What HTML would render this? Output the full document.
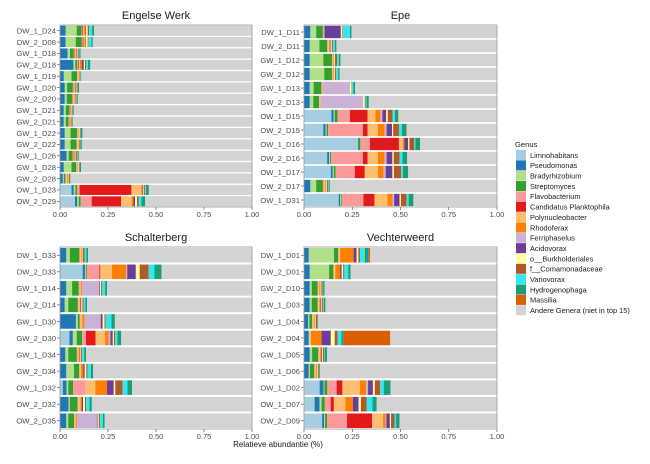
<!DOCTYPE html>
<html><head><meta charset="utf-8"><style>
body{margin:0;background:#fff;font-family:"Liberation Sans",sans-serif}
svg text{font-family:"Liberation Sans",sans-serif}
</style></head><body>
<svg id="chart" width="650" height="459" xmlns="http://www.w3.org/2000/svg"></svg>
<script>
const genera=["Limnohabitans","Pseudomonas","Bradyrhizobium","Streptomyces","Flavobacterium","Candidatus Planktophila","Polynucleobacter","Rhodoferax","Ferriphaselus","Acidovorax","o__Burkholderiales","f__Comamonadaceae","Variovorax","Hydrogenophaga","Massilia","Andere Genera (niet in top 15)"];
const colors=["#a6cee3","#1f78b4","#b2df8a","#33a02c","#fb9a99","#e31a1c","#fdbf6f","#ff7f00","#cab2d6","#6a3d9a","#ffff99","#b15928","#33e6f0","#1b9e77","#d95f02","#d3d3d3"];
const xTicks=[0,0.25,0.5,0.75,1];
const xTickLabels=["0.00","0.25","0.50","0.75","1.00"];
const ewSamples=["DW_1_D24","DW_2_D08","GW_1_D18","GW_2_D18","GW_1_D19","GW_1_D20","GW_2_D20","GW_1_D21","GW_2_D21","GW_1_D22","GW_2_D22","GW_1_D26","GW_1_D28","GW_2_D28","OW_1_D23","OW_2_D29"];
const ewValues=[
[0,.03,.057,.026,.004,.004,.006,.006,0,.003,.008,.008,.015,.01,0],
[0,.03,.052,.032,.004,.004,.006,.006,0,.002,.008,.004,.015,.008,0],
[0,.04,.012,.02,.004,.003,.004,.004,0,.002,.003,.006,.003,.006,0],
[0,.07,.01,.01,.004,.004,.006,.01,0,.01,.006,.006,.01,.012,0],
[0,.02,.04,.03,.002,0,.003,.003,0,0,.003,.004,.002,.004,0],
[0,.025,.012,.03,.003,.002,.005,.004,0,.002,.003,.005,.002,.006,0],
[0,.025,.01,.028,.003,.002,.005,.004,0,0,.003,.005,.002,.006,0],
[0,.02,.01,.02,.003,.002,.004,.003,0,0,.002,.004,.002,.004,0],
[0,.02,.01,.015,.003,.002,.004,.003,0,0,.002,.004,0,.004,0],
[0,.025,.03,.035,.003,0,.004,.003,0,0,.003,.004,.002,.008,0],
[0,.025,.03,.032,.003,0,.004,.003,0,0,.003,.004,.002,.008,0],
[0,.035,.01,.02,.003,.002,.005,.004,0,.002,.003,.006,.002,.006,0],
[0,.02,.04,.025,.003,0,.004,.003,0,0,.003,.004,.002,.006,0],
[0,.015,.005,.008,.005,0,.006,.005,0,0,.002,.004,0,.004,0],
[.06,.012,.008,.01,.012,.27,.052,.006,0,.004,.004,.006,.004,.015,0],
[.078,.012,.008,.01,.057,.153,.055,.01,0,.008,.01,.008,.015,.02,0]];
const epeSamples=["DW_1_D11","DW_2_D11","GW_1_D12","GW_2_D12","GW_1_D13","GW_2_D13","OW_1_D15","OW_2_D15","OW_1_D16","OW_2_D16","OW_1_D17","OW_2_D17","OW_1_D31"];
const epeValues=[
[0,.033,.03,.035,.005,0,.003,0,0,.085,.008,.004,.035,.008,0],
[0,.03,.05,.04,.005,0,.005,.004,0,.004,.006,.006,.01,.008,0],
[0,.03,.07,.045,.004,0,.004,.004,0,0,.004,.01,.01,.008,0],
[0,.03,.075,.04,.004,0,.004,.004,0,0,.004,.006,.01,.008,0],
[0,.03,.02,.04,.003,0,.004,.002,.14,0,.006,.002,.008,.01,0],
[0,.03,.018,.03,.003,0,.004,.002,.22,0,.008,.004,.005,.012,0],
[.142,.012,.005,.015,.064,.092,.04,.026,.01,.02,.008,.025,.012,.018,0],
[.1,.012,.005,.008,.18,.025,.052,.036,.01,.028,.006,.03,.015,.025,0],
[.28,0,0,.012,.05,.15,.02,.008,0,.02,.006,.025,.006,.025,0],
[.12,.01,.005,.005,.165,.025,.052,.036,.01,.03,.007,.03,.015,.025,0],
[.139,.01,.005,.01,.099,.052,.068,.03,.01,.035,.008,.038,.008,.028,0],
[0,.033,.03,.035,.006,0,.006,.004,0,0,.004,.006,.004,.006,0],
[.18,.008,.005,.005,.11,.057,.068,.026,.008,.028,.007,.03,.01,.025,0]];
const schSamples=["DW_1_D33","DW_2_D33","GW_1_D14","GW_2_D14","GW_1_D30","GW_2_D30","GW_1_D34","GW_2_D34","OW_1_D32","OW_2_D32","OW_2_D35"];
const schValues=[
[0,.033,.018,.05,.004,0,.005,.004,0,0,.004,.01,.01,.008,0],
[.118,.012,.005,.005,.065,.005,.06,.075,.005,.045,.02,.047,.03,.037,0],
[0,.033,.03,.035,.004,0,.006,.006,.09,.004,.006,.006,.015,.01,0],
[0,.025,.018,.05,.004,0,.006,.004,0,.004,.006,.006,.01,.008,0],
[0,.083,.01,.01,.004,0,.01,.01,.085,.01,.01,.006,.03,.018,0],
[.049,.018,.02,.028,.02,.05,.05,.018,.01,.012,.006,.006,.012,.02,0],
[0,.028,.015,.045,.004,0,.005,.006,0,.003,.004,.006,.01,.01,0],
[0,.033,.04,.027,.004,0,.005,.012,0,.008,.008,.006,.018,.012,0],
[.015,.02,.008,.025,.066,0,.05,.061,0,.035,.008,.038,.025,.025,0],
[0,.045,.006,.04,.004,0,.012,.006,0,.007,.01,.006,.018,.012,0],
[0,.033,.01,.03,.004,0,.005,.006,.104,.004,.006,.006,.015,.01,0]];
const vecSamples=["DW_1_D01","DW_2_D01","GW_2_D10","GW_1_D03","GW_1_D04","GW_2_D04","GW_1_D05","GW_1_D06","OW_1_D02","OW_1_D07","OW_2_D09"];
const vecValues=[
[0,.025,.13,.022,.004,0,.006,.07,0,.015,.01,.008,.025,.02,.008],
[0,.03,.1,.022,.004,0,.006,.025,0,.008,.008,.006,.02,.012,0],
[0,.03,.01,.03,.004,0,.006,.006,0,0,.004,.006,.003,.008,0],
[0,.03,.01,.03,.004,0,.006,.006,0,.004,.004,.006,.003,.008,0],
[0,.022,.006,.014,.004,0,.008,.005,0,0,.003,.006,0,.004,0],
[0,.025,.005,0,0,0,.006,.055,0,.048,.02,.015,.02,.01,.243],
[0,.03,.012,.032,.004,0,.006,.006,0,.004,.004,.006,.003,.012,0],
[0,.025,.006,.022,.004,0,.006,.006,0,0,.003,.004,0,.006,0],
[.081,.02,.005,.015,.048,.03,.09,.033,.01,.025,.01,.028,.018,.035,0],
[.055,.026,.01,.017,.03,.017,.06,.038,0,.03,.012,.03,.03,.022,0],
[.094,.01,.005,.01,.104,.13,.057,.012,.005,.018,.006,.018,.008,.018,0]];

const NS="http://www.w3.org/2000/svg";
const svg=document.getElementById('chart');
function mk(tag,attrs,parent){const e=document.createElementNS(NS,tag);for(const k in attrs)e.setAttribute(k,attrs[k]);(parent||svg).appendChild(e);return e;}
const panels=[
{title:"Engelse Werk",samples:ewSamples,values:ewValues,x0:60,x1:252,y0:25,y1:207,key:"engelse-werk"},
{title:"Epe",samples:epeSamples,values:epeValues,x0:304,x1:497,y0:25,y1:207,key:"epe"},
{title:"Schalterberg",samples:schSamples,values:schValues,x0:60,x1:252,y0:247,y1:429,key:"schalterberg"},
{title:"Vechterweerd",samples:vecSamples,values:vecValues,x0:304,x1:497,y0:247,y1:429,key:"vechterweerd"}];
panels.forEach(p=>{
  const g=mk('g',{});
  
  
  const xs=v=>p.x0+v*(p.x1-p.x0);
  const band=(p.y1-p.y0)/p.samples.length;
  const t=mk('text',{x:(p.x0+p.x1)/2,y:p.y0-6,'text-anchor':'middle','font-size':11,fill:'#1a1a1a'},g);
  t.textContent=p.title;
  
  
  p.samples.forEach((s,i)=>{
    const cy=p.y0+band*(i+0.5), h=band*0.88;
    let acc=0;
    const vals=p.values[i];
    vals.forEach((v,j)=>{
      if(v<=0)return;
      const r=mk('rect',{x:xs(acc),y:cy-h/2,width:xs(acc+v)-xs(acc),height:h,fill:colors[j]},g);
      
      
      acc+=v;
    });
    const r=mk('rect',{x:xs(acc),y:cy-h/2,width:xs(1)-xs(acc),height:h,fill:colors[15]},g);
    
    
    mk('line',{x1:p.x0-3,x2:p.x0,y1:cy,y2:cy,stroke:'#444','stroke-width':0.6},g);
    const l=mk('text',{x:p.x0-4,y:cy+2.8,'text-anchor':'end','font-size':7.6,fill:'#4d4d4d'},g);
    l.textContent=s;
    
    
  });
  mk('rect',{x:p.x0,y:p.y0,width:p.x1-p.x0,height:p.y1-p.y0,fill:'none',stroke:'#999','stroke-width':0.8},g);
  xTicks.forEach((v,k)=>{
    mk('line',{x1:xs(v),x2:xs(v),y1:p.y1,y2:p.y1+3,stroke:'#444','stroke-width':0.6},g);
    const tl=mk('text',{x:xs(v),y:p.y1+10,'text-anchor':'middle','font-size':7.6,fill:'#4d4d4d'},g);
    tl.textContent=xTickLabels[k];
    
    
  });
});
const xt=mk('text',{x:278,y:447,'text-anchor':'middle','font-size':8,fill:'#1a1a1a'});
xt.textContent="Relatieve abundantie (%)";


const lg=mk('g',{});


const lt=mk('text',{x:515,y:147,'font-size':7.6,fill:'#1a1a1a'},lg);
lt.textContent="Genus";


genera.forEach((name,i)=>{
  const y=150+i*10.35;
  const ent=mk('g',{},lg);
  
  
  mk('rect',{x:516,y:y,width:10,height:10,fill:colors[i]},ent);
  const tx=mk('text',{x:530,y:y+7.8,'font-size':7.4,fill:'#1a1a1a'},ent);
  tx.textContent=name;
});
</script>
</body></html>
